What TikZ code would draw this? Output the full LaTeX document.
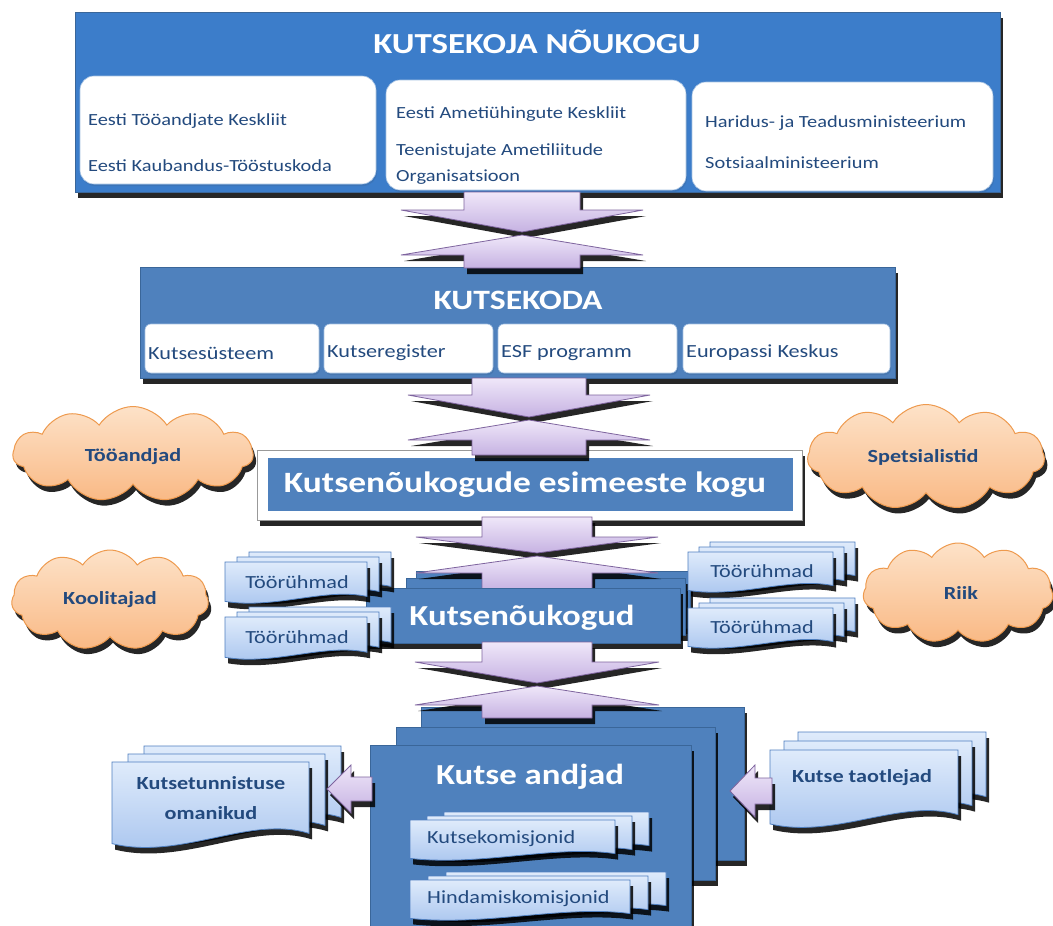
\documentclass[tikz,border=0pt]{standalone}
\usepackage{fontspec}
\setmainfont{Carlito}[FakeStretch=1.2]
\usetikzlibrary{shapes.symbols,shadows}
\definecolor{topblue}{HTML}{3C7DCA}
\definecolor{midblue}{HTML}{4F81BD}
\definecolor{edgeblue}{HTML}{3A6699}
\definecolor{navy}{HTML}{234A7E}
\definecolor{arrT}{HTML}{EFE7F9}
\definecolor{arrB}{HTML}{C6B2E2}
\definecolor{arrD}{HTML}{7E649E}
\definecolor{docT}{HTML}{DFEBFB}
\definecolor{docB}{HTML}{A6C3EE}
\definecolor{docD}{HTML}{4F7FC0}
\definecolor{cloT}{HTML}{FDE2C8}
\definecolor{cloB}{HTML}{F9B985}
\definecolor{cloD}{HTML}{EE9A4E}
\tikzset{
  shad/.style={drop shadow={shadow xshift=3pt,shadow yshift=-6pt,opacity=.85,fill=black}},
  lightshad/.style={drop shadow={shadow xshift=1pt,shadow yshift=-2pt,opacity=.35,fill=edgeblue}},
  bigbox/.style={fill=topblue,draw=edgeblue,line width=0.8pt,shad},
  bluebox/.style={fill=midblue,draw=edgeblue,line width=0.8pt,shad},
  whitebox/.style={fill=white,draw=docT!60!midblue,line width=0.6pt,lightshad},
  arrfill/.style={top color=arrT,bottom color=arrB,draw=arrD,line width=0.8pt,shad},
  docfill/.style={top color=docT,bottom color=docB,draw=docD,line width=0.8pt,shad},
  cloudbox/.style={cloud,cloud puffs=11,cloud puff arc=115,top color=cloT,bottom color=cloB,draw=cloD,line width=1pt,shad,inner sep=0pt},
  titletxt/.style={text=white,font=\bfseries\fontsize{29}{34}\selectfont,inner sep=0pt},
  intxt/.style={text=navy,font=\fontsize{17}{20}\selectfont,inner sep=0pt,anchor=west},
  regtxt/.style={text=navy,font=\fontsize{18.5}{22}\selectfont,inner sep=0pt},
  boldtxt/.style={text=navy,font=\bfseries\fontsize{18.5}{30}\selectfont,inner sep=0pt,align=center},
}
\newcommand\docsh[4]{%
  \pgfmathsetmacro\dsXa{#1}\pgfmathsetmacro\dsYa{#2}%
  \pgfmathsetmacro\dsXb{#3}\pgfmathsetmacro\dsYb{#4}%
  \pgfmathsetmacro\dsW{\dsXb-\dsXa}\pgfmathsetmacro\dsH{\dsYb-\dsYa}%
  \path[docfill] (\dsXa,\dsYa) -- (\dsXb,\dsYa) -- (\dsXb,{\dsYb-0.16*\dsH})
    .. controls ({\dsXb-0.3*\dsW},{\dsYb-0.38*\dsH}) and ({\dsXa+0.35*\dsW},{\dsYb+0.16*\dsH})
    .. (\dsXa,{\dsYb-0.04*\dsH}) -- cycle;}
\newcommand\docstack[6]{%
  \docsh{#1+2*#5}{#2-2*#6}{#3+2*#5}{#4-2*#6}%
  \docsh{#1+#5}{#2-#6}{#3+#5}{#4-#6}%
  \docsh{#1}{#2}{#3}{#4}}
\newcommand\dblarr[9]{%
  \pgfmathsetmacro\daL{#1-#8}\pgfmathsetmacro\daR{#1+#8}%
  \pgfmathsetmacro\daHL{#1-#9}\pgfmathsetmacro\daHR{#1+#9}%
  \path[arrfill] (\daL,#2) -- (\daR,#2) -- (\daR,#3) -- (\daHR,#3) -- (#1,#4) -- (\daHL,#3) -- (\daL,#3) -- cycle;
  \path[arrfill] (#1,#5) -- (\daHR,#6) -- (\daR,#6) -- (\daR,#7) -- (\daL,#7) -- (\daL,#6) -- (\daHL,#6) -- cycle;}
\begin{document}
\begin{tikzpicture}[x=1pt,y=-1pt]
\useasboundingbox (0,0) rectangle (1053,926);
\fill[white] (0,0) rectangle (1053,926);

% ---------- KUTSEKOJA NOUKOGU ----------
\path[bigbox] (75,12) rectangle (1000,192);
\node[titletxt] (noukogu) at (537,42) {KUTSEKOJA NÕUKOGU};
\path[whitebox,rounded corners=14pt] (80,76) rectangle (376,184);
\path[whitebox,rounded corners=14pt] (386,80) rectangle (686,190);
\path[whitebox,rounded corners=14pt] (692,82) rectangle (993,191);
\node[intxt] (etk) at (88,121) {Eesti Tööandjate Keskliit};
\node[intxt] (ekt) at (88,166) {Eesti Kaubandus-Tööstuskoda};
\node[intxt] (eak) at (396,114) {Eesti Ametiühingute Keskliit};
\node[intxt] (tao1) at (396,151) {Teenistujate Ametiliitude};
\node[intxt] (tao2) at (396,177) {Organisatsioon};
\node[intxt] (htm) at (705,123) {Haridus- ja Teadusministeerium};
\node[intxt] (som) at (705,163) {Sotsiaalministeerium};

% ---------- KUTSEKODA ----------
\path[bluebox] (140,267) rectangle (895,378);
\node[titletxt,font=\bfseries\fontsize{28}{34}\selectfont] (kutsekoda) at (518,300) {KUTSEKODA};
\path[whitebox,rounded corners=6pt] (145,324) rectangle (319,373);
\path[whitebox,rounded corners=6pt] (324,324) rectangle (493,373);
\path[whitebox,rounded corners=6pt] (498,324) rectangle (677,373);
\path[whitebox,rounded corners=6pt] (683,324) rectangle (890,373);
\node[intxt,font=\fontsize{18.5}{22}\selectfont] (ks) at (148,353) {Kutsesüsteem};
\node[intxt,font=\fontsize{18.5}{22}\selectfont] (kr) at (327,353) {Kutseregister};
\node[intxt,font=\fontsize{18.5}{22}\selectfont] (esf) at (501,353) {ESF programm};
\node[intxt,font=\fontsize{18.5}{22}\selectfont] (epk) at (686,353) {Europassi Keskus};

% ---------- esimeeste kogu ----------
\path[fill=white,draw=black!40,line width=0.6pt,shad] (257,450) rectangle (802,520);
\path[fill=midblue] (268,458) rectangle (793,511);
\node[titletxt,font=\bfseries\fontsize{29.5}{34}\selectfont] (ekogu) at (525,485) {Kutsenõukogude esimeeste kogu};

% arrows 1 and 2
\dblarr{522}{192}{210}{232}{235}{255}{268}{58}{121}
\dblarr{529}{378}{395}{417}{420}{440}{455}{57}{121}

% ---------- Kutsenoukogud ----------
\path[bluebox] (416,571) rectangle (690,628);
\path[bluebox] (406,578) rectangle (685,635);
\dblarr{537}{517}{537}{553}{556}{573}{590}{55}{121}
\path[bluebox] (366,588) rectangle (680,643);
\node[titletxt,font=\bfseries\fontsize{29}{36}\selectfont] (knk) at (522,618) {Kutsenõukogud};

% Tooryhmad
\docstack{225}{562}{367}{603}{12}{5}
\node[regtxt] (tr1) at (297,582) {Töörühmad};
\docstack{225}{617}{367}{659}{12}{5}
\node[regtxt] (tr2) at (297,637) {Töörühmad};
\docstack{688}{552}{833}{592}{11}{5}
\node[regtxt] (tr3) at (762,571) {Töörühmad};
\docstack{688}{608}{833}{648}{11}{5}
\node[regtxt] (tr4) at (762,627) {Töörühmad};

% ---------- Kutse andjad ----------
\path[bluebox] (421,707) rectangle (744,860);
\dblarr{537}{642}{662}{683}{686}{705}{718}{55}{122}
\path[bluebox] (396,727) rectangle (715,880);
\path[bluebox] (370,745) rectangle (691,926);
\node[titletxt,font=\bfseries\fontsize{29}{36}\selectfont] (ka) at (530,777) {Kutse andjad};
\docstack{410}{820}{615}{860}{17}{4}
\node[regtxt,anchor=west] (kk) at (427,839) {Kutsekomisjonid};
\docstack{410}{880}{630}{920}{18}{4}
\node[regtxt,anchor=west] (hk) at (427,899) {Hindamiskomisjonid};

% side documents
\docstack{112}{762}{309}{847}{16}{8}
\node[boldtxt] (kto) at (211,798) {Kutsetunnistuse\\omanikud};
\docstack{770}{750}{958}{827}{14}{9}
\node[boldtxt] (kt) at (862,778) {Kutse taotlejad};

% side arrows
\path[arrfill] (372,777) -- (351,777) -- (351,765) -- (327,789) -- (351,813) -- (351,801) -- (372,801) -- cycle;
\path[arrfill] (772,778) -- (755,778) -- (755,765) -- (730,791) -- (755,817) -- (755,804) -- (772,804) -- cycle;

% ---------- clouds ----------
\node[cloudbox,minimum width=240pt,minimum height=95pt,aspect=2.5] (c1) at (133,454) {};
\node[boldtxt] (t1) at (133,457) {Tööandjad};
\node[cloudbox,minimum width=237pt,minimum height=105pt,aspect=2.25] (c2) at (926,457) {};
\node[boldtxt] (t2) at (923,457) {Spetsialistid};
\node[cloudbox,minimum width=197pt,minimum height=100pt,aspect=2.0] (c3) at (110,600) {};
\node[boldtxt] (t3) at (110,600) {Koolitajad};
\node[cloudbox,minimum width=190pt,minimum height=100pt,aspect=1.9] (c4) at (958,593) {};
\node[boldtxt] (t4) at (961,593) {Riik};
\end{tikzpicture}
\end{document}
